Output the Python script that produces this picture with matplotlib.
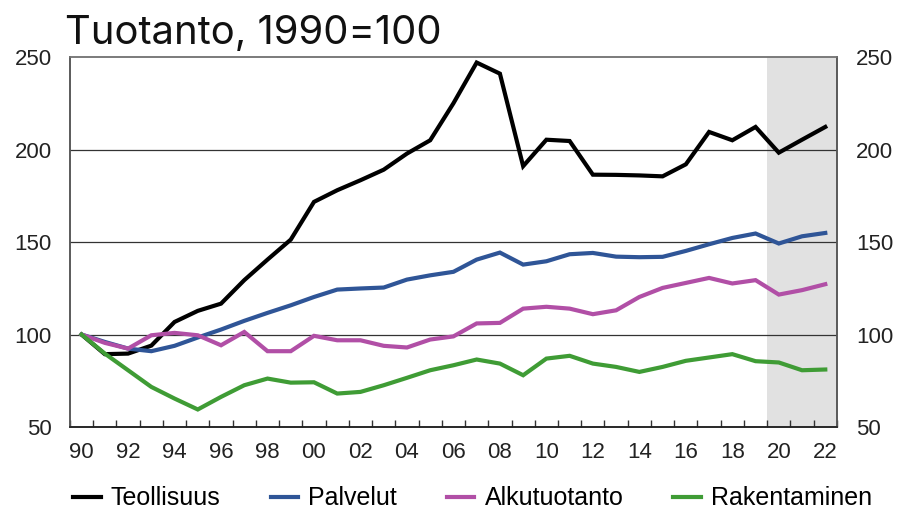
import matplotlib.pyplot as plt
import numpy as np

years = list(range(1990, 2023))
teollisuus = [100, 89.4, 89.7, 94, 106.8, 112.8, 116.7, 129.4, 140.5, 151.3, 171.7,
              178, 183.4, 189.1, 197.8, 205, 225, 247, 241, 191, 205.3,
              204.6, 186.4, 186.3, 186, 185.5, 192, 209.5, 205, 212.2, 198.3,
              205.3, 212.2]
palvelut = [100, 96, 92.4, 91, 93.9, 98.4, 102.7, 107.4, 111.7, 115.8, 120.3,
            124.3, 124.9, 125.4, 129.7, 132, 133.9, 140.5, 144.3, 137.8, 139.6,
            143.4, 144.1, 142.1, 141.8, 142, 145.2, 148.8, 152.2, 154.6, 149.2,
            153.1, 154.9]
alkutuotanto = [100, 95.5, 92.4, 99.6, 100.9, 99.6, 94.2, 101.4, 91, 91, 99.3,
                96.9, 96.9, 93.9, 93, 97.3, 99, 106, 106.3, 114, 115,
                114, 111, 113.1, 120.3, 125.2, 127.9, 130.6, 127.6, 129.4, 121.6,
                124, 127.2]
rakentaminen = [100, 89.7, 80.7, 71.7, 65.4, 59.5, 66.3, 72.6, 76.2, 74, 74.2,
                68.1, 69, 72.6, 76.6, 80.7, 83.4, 86.5, 84.3, 78, 87,
                88.5, 84.3, 82.5, 79.8, 82.5, 85.8, 87.6, 89.4, 85.6, 84.9,
                80.7, 81.1]
names = ["Teollisuus", "Palvelut", "Alkutuotanto", "Rakentaminen"]
colors = ["#000000", "#2f5597", "#b14fa6", "#3f9c35"]
ennuste_alku = 2020

x = np.arange(len(years))
fig = plt.figure(figsize=(8.97, 5.09), dpi=100)
ax = fig.add_axes([0.078, 0.161, 0.855, 0.727])

ax.axvspan(years.index(ennuste_alku) - 0.5, len(years) - 0.5, color="#e1e1e1", zorder=0, lw=0)
for yv in [100, 150, 200]:
    ax.axhline(yv, color="#333333", lw=0.9, zorder=1)

for vals, name, c in zip([teollisuus, palvelut, alkutuotanto, rakentaminen], names, colors):
    ax.plot(x, vals, color=c, lw=3, label=name, zorder=3, solid_joinstyle="miter")

ax.set_xlim(-0.5, len(years) - 0.5)
ax.set_ylim(50, 250)
ax.set_yticks([50, 100, 150, 200, 250])
ax.set_xticks(x[::2])
ax.set_xticklabels([f"{y % 100:02d}" for y in years[::2]])
ax.set_xticks(np.arange(-0.5, len(years), 1), minor=True)
ax.tick_params(axis="x", which="major", length=0, pad=11)
ax.tick_params(axis="x", which="minor", direction="in", length=5, width=1, color="#333333")
ax.tick_params(axis="y", length=0, pad=13)
ax.tick_params(labelsize=16)
for lab in ax.get_xticklabels() + ax.get_yticklabels():
    lab.set_fontfamily("Liberation Sans")
    lab.set_color("#222222")

ax2 = ax.twinx()
ax2.set_ylim(50, 250)
ax2.set_yticks([50, 100, 150, 200, 250])
ax2.tick_params(axis="y", length=0, pad=14, labelsize=16)
for lab in ax2.get_yticklabels():
    lab.set_fontfamily("Liberation Sans")
    lab.set_color("#222222")

for a in (ax, ax2):
    a.spines["top"].set_color("#777777")
    a.spines["left"].set_color("#555555")
    a.spines["right"].set_color("#555555")
    a.spines["bottom"].set_color("#222222")
    for s in a.spines.values():
        s.set_linewidth(1.1)

fig.text(0.073, 0.913, "Tuotanto, 1990=100", fontsize=28.8, family="Inter",
         color="#111111", va="baseline")

leg = fig.legend(loc="lower center", bbox_to_anchor=(0.527, -0.037), ncol=4, frameon=False,
                 handlelength=1.1, columnspacing=2.0, handletextpad=0.4, borderpad=0.2,
                 prop={"family": "Liberation Sans", "size": 18})

fig.savefig("out.png", dpi=100)
